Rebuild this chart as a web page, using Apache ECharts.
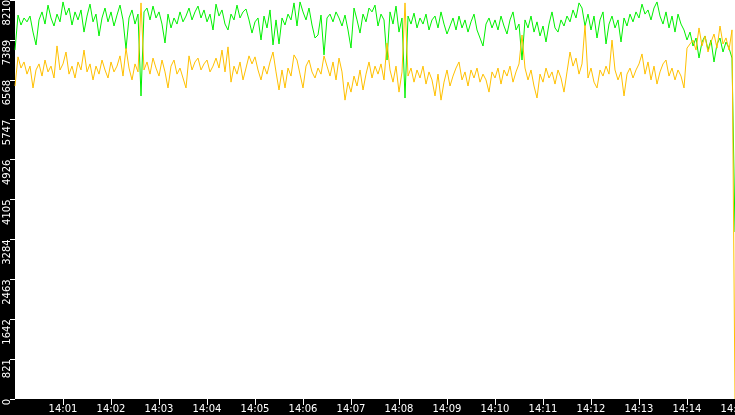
<!DOCTYPE html>
<html>
<head>
<meta charset="utf-8">
<script src="https://cdn.jsdelivr.net/npm/echarts@6/dist/echarts.min.js"></script>
<style>
  html, body { margin: 0; padding: 0; background: #000; }
  #chart { width: 735px; height: 415px; }
</style>
</head>
<body>
<div id="chart"></div>
<script>
// samples: one every 3.75 s from 14:00:00 to 14:15:00
const sampleStep = 3.75;
const startMinute = 0; // 14:00

const greenValues = [
  7180, 7900, 7695, 7840, 7760, 7880, 7550, 7285, 7800, 7965,
  7715, 8105, 7840, 7675, 7920, 7760, 8170, 7900, 8045, 7695,
  7965, 7800, 8005, 7550, 7880, 8125, 7760, 7920, 7470, 7840,
  8045, 7760, 7965, 7675, 7900, 8105, 7800, 7200, 7840, 8005,
  7715, 7920, 6235, 7965, 8045, 7800, 8085, 7840, 7965, 7715,
  7325, 7920, 7635, 7840, 7715, 7965, 7760, 7880, 8045, 7800,
  7965, 8085, 7840, 8005, 7760, 7920, 7593, 8125, 7880, 8005,
  7715, 7593, 7920, 7800, 8105, 7840, 7965, 8025, 7800, 7530,
  7760, 7840, 7387, 7880, 7635, 8005, 7285, 7800, 7305, 7840,
  7695, 7920, 7800, 8150, 7675, 8170, 7965, 7800, 8045, 7695,
  7428, 7490, 7900, 7080, 7840, 7920, 7760, 7965, 7840, 7675,
  7900, 7593, 7222, 8045, 7800, 7530, 7920, 7760, 8045, 7965,
  8105, 7675, 7920, 7800, 6975, 7965, 7715, 8085, 7550, 7840,
  6193, 7880, 7715, 7940, 7635, 7840, 7715, 7920, 7593, 7800,
  7880, 7635, 7965, 7715, 7510, 7675, 7840, 7593, 7880, 7635,
  7800, 7550, 7760, 7920, 7593, 7428, 7263, 7715, 7840, 7635,
  7800, 7593, 7880, 7675, 7510, 7800, 7965, 7593, 7715, 6975,
  7800, 7635, 7880, 7550, 7760, 7470, 7675, 7346, 7715, 7965,
  7635, 7550, 7800, 7675, 7880, 7760, 8005, 7840, 8150, 8045,
  7675, 7920, 7593, 7880, 7428, 7800, 7965, 7305, 7715, 7880,
  7635, 7800, 7346, 7840, 7675, 7920, 7760, 7965, 7840, 8125,
  7920, 8005, 7800, 8045, 8170, 7880, 7715, 7965, 7635, 7880,
  7550, 7920, 7715, 7593, 7387, 7550, 7263, 7428, 7016, 7346,
  7470, 7181, 7387, 6934, 7305, 7428, 7140, 7346, 7222, 7016,
  3436
];

const orangeValues = [
  6440, 7040, 6810, 6935, 6685, 6850, 6400, 6770, 6895, 6645,
  6975, 6730, 6850, 6605, 7265, 6770, 6895, 7140, 6685, 6850,
  6605, 6935, 6770, 7180, 6730, 6895, 6565, 6850, 6685, 6975,
  6770, 6605, 6935, 6730, 6850, 7060, 6645, 7220, 6810, 6565,
  6895, 6730, 8150, 6770, 6935, 6685, 7015, 6810, 6645, 6975,
  6730, 6400, 6850, 6975, 6685, 6810, 6605, 6400, 7060, 6770,
  6935, 7015, 6770, 6895, 6975, 6730, 6850, 7015, 6810, 7180,
  6730, 7245, 6520, 6850, 6685, 6935, 6565, 6810, 7060, 6895,
  7040, 6770, 6565, 6850, 6685, 6935, 7140, 6730, 6358, 6770,
  6400, 6810, 6645, 7080, 6975, 6685, 6400, 6850, 6975, 6730,
  6605, 6810, 6685, 7060, 6850, 6645, 6935, 6565, 7015, 6730,
  6150, 6520, 6315, 6645, 6440, 6770, 6358, 6685, 6935, 6605,
  6850, 6685, 6895, 6565, 7325, 6770, 6520, 6850, 6315, 6730,
  8150, 6645, 6810, 6520, 6770, 6605, 6850, 6480, 6730, 6565,
  6235, 6685, 6150, 6520, 6770, 6440, 6645, 6810, 6935, 6565,
  6730, 6440, 6770, 6605, 6810, 6520, 6685, 6565, 6315, 6730,
  6605, 6810, 6480, 6770, 6645, 6850, 6520, 6730, 6895, 7490,
  6810, 6565, 6770, 6440, 6193, 6685, 6520, 6810, 6605, 6730,
  6480, 6770, 6605, 6315, 6730, 7140, 6850, 7015, 6685, 6895,
  7695, 6605, 6810, 6520, 6400, 6770, 6645, 6850, 6685, 7385,
  6770, 6565, 6730, 6235, 6685, 6810, 6605, 6770, 6895, 7100,
  6685, 6935, 6565, 6850, 6480, 6730, 6895, 6975, 6645, 6810,
  6565, 6770, 6645, 6400, 7220, 7305, 7385, 7180, 7635, 7265,
  7470, 7140, 7345, 7510, 7220, 7675, 7305, 7430, 7180, 7595,
  0
];

// y axis: 0 .. 8210 in steps of 821
const yMax = 8210;
const yStep = 821;

function pairs(values) {
  return values.map((v, i) => [i * sampleStep, v]);
}

const chart = echarts.init(document.getElementById('chart'));

const font = 'DejaVu Sans';

chart.setOption({
  backgroundColor: '#000',
  animation: false,
  grid: {
    left: 15, right: 0, top: 0, bottom: 16,
    outerBoundsMode: 'none', containLabel: false,
    show: true, backgroundColor: '#fff', borderWidth: 0
  },
  xAxis: {
    type: 'value',
    min: 0,
    max: 900,
    interval: 60,
    axisLine: { show: false },
    axisTick: { show: true, length: 6, lineStyle: { color: '#fff', width: 1 } },
    splitLine: { show: false },
    axisLabel: {
      color: '#fff', fontFamily: font, fontSize: 10, margin: 5,
      showMinLabel: false, hideOverlap: false,
      formatter: v => {
        const m = startMinute + Math.round(v / 60);
        return '14:' + (m < 10 ? '0' + m : m);
      }
    }
  },
  yAxis: {
    type: 'value',
    min: 0,
    max: yMax,
    interval: yStep,
    axisLine: { show: false },
    axisTick: { show: true, length: 5, lineStyle: { color: '#fff', width: 1 } },
    splitLine: { show: false },
    axisLabel: {
      color: '#fff', fontFamily: font, fontSize: 10, margin: 3,
      rotate: 90, align: 'right',
      formatter: v => String(v)
    }
  },
  series: [
    {
      type: 'line', data: pairs(greenValues), showSymbol: false,
      lineStyle: { color: '#00f000', width: 1 }, itemStyle: { color: '#00f000' }
    },
    {
      type: 'line', data: pairs(orangeValues), showSymbol: false,
      lineStyle: { color: '#ffc000', width: 1 }, itemStyle: { color: '#ffc000' }
    }
  ]
});
</script>
</body>
</html>
